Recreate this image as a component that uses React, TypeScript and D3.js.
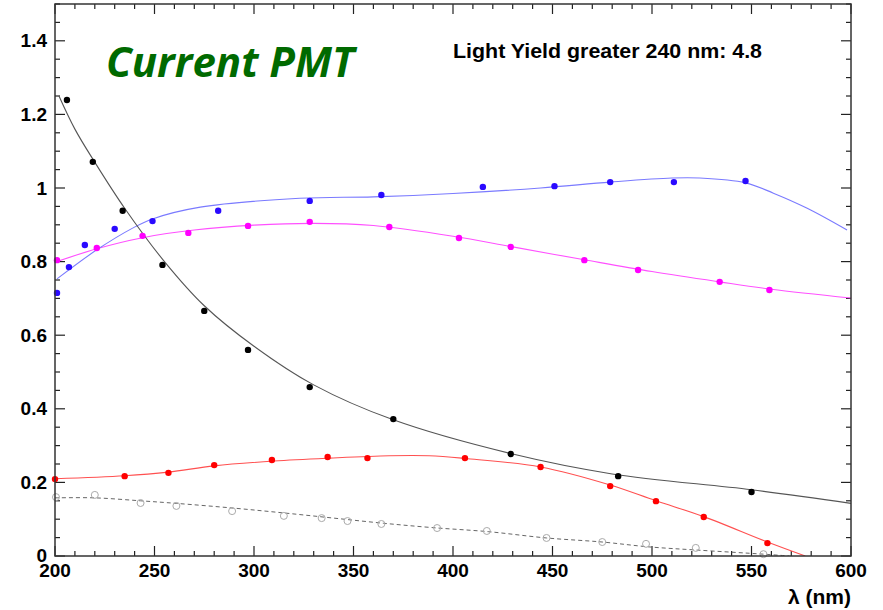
import React from "react";
import * as d3 from "d3";

// ---- data ----
const xTicks = [200, 250, 300, 350, 400, 450, 500, 550, 600];
const yTicks = [0, 0.2, 0.4, 0.6, 0.8, 1, 1.2, 1.4];
const yTickLabels = ["0", "0.2", "0.4", "0.6", "0.8", "1", "1.2", "1.4"];

const blackPts: [number, number][] = [
  [206, 1.239], [219, 1.071], [234, 0.938], [254, 0.791], [275, 0.666], [297, 0.56],
  [328, 0.459], [370, 0.372], [429, 0.277], [483, 0.217], [550, 0.174],
];
const blackFit: [number, number][] = [
  [202, 1.25], [210, 1.16], [220, 1.07], [235, 0.945], [255, 0.8], [275, 0.68], [300, 0.57],
  [330, 0.465], [370, 0.37], [430, 0.277], [480, 0.223], [550, 0.18], [600, 0.143],
];

const bluePts: [number, number][] = [
  [201, 0.715], [207, 0.785], [215, 0.845], [230, 0.889], [249, 0.91], [282, 0.938],
  [328, 0.965], [364, 0.981], [415, 1.003], [451, 1.005], [479, 1.016], [511, 1.016], [547, 1.019],
];
const blueFit: [number, number][] = [
  [201, 0.753], [221, 0.832], [239, 0.891], [249, 0.916], [273, 0.948], [323, 0.972],
  [360, 0.976], [400, 0.985], [444, 1.0], [479, 1.016], [510, 1.027], [524, 1.027],
  [547, 1.014], [561, 0.986], [578, 0.945], [598, 0.886],
];

const magentaPts: [number, number][] = [
  [201, 0.804], [221, 0.837], [244, 0.87], [267, 0.878], [297, 0.897], [328, 0.908],
  [368, 0.894], [403, 0.864], [429, 0.84], [466, 0.804], [493, 0.777], [534, 0.745], [559, 0.723],
];
const magentaFit: [number, number][] = [
  [201, 0.8], [221, 0.835], [244, 0.865], [270, 0.886], [300, 0.899], [330, 0.904],
  [360, 0.898], [400, 0.869], [430, 0.84], [466, 0.805], [500, 0.773], [534, 0.745],
  [560, 0.725], [600, 0.701],
];

const redPts: [number, number][] = [
  [200, 0.209], [235, 0.217], [257, 0.226], [280, 0.247], [309, 0.261], [337, 0.269],
  [357, 0.266], [406, 0.266], [444, 0.242], [479, 0.19], [502, 0.149], [526, 0.106], [558, 0.035],
];
const redFit: [number, number][] = [
  [200, 0.21], [235, 0.218], [257, 0.228], [280, 0.245], [310, 0.258], [338, 0.266],
  [368, 0.2725], [388, 0.2725], [406, 0.265], [444, 0.242], [479, 0.193], [502, 0.15],
  [526, 0.107], [558, 0.038], [577, 0.0],
];

const greyPts: [number, number][] = [
  [200.5, 0.16], [220, 0.166], [243, 0.144], [261, 0.136], [289, 0.122], [315, 0.109],
  [334, 0.103], [347, 0.095], [364, 0.087], [392, 0.076], [417, 0.068], [447, 0.049],
  [475, 0.038], [497, 0.033], [522, 0.022], [556, 0.005],
];
const greyFit: [number, number][] = [
  [200, 0.158], [220, 0.158], [243, 0.15], [261, 0.143], [290, 0.13], [315, 0.117],
  [340, 0.103], [365, 0.089], [390, 0.077], [418, 0.066], [447, 0.049], [475, 0.038],
  [498, 0.025], [523, 0.016], [556, 0.005], [569, 0.0],
];

// ---- layout ----
const W = 883;
const H = 610;
const L = 55, R = 851, T = 4, B = 556;

export default function App() {
  const x = d3.scaleLinear().domain([200, 600]).range([L, R]);
  const y = d3.scaleLinear().domain([0, 1.5]).range([B, T]);
  const line = d3
    .line<[number, number]>()
    .x((d) => x(d[0]))
    .y((d) => y(d[1]))
    .curve(d3.curveCatmullRom.alpha(0.5));

  const xMinor = d3.range(200, 601, 10);
  const yMinor = d3.range(0, 1.5001, 0.05);

  const font = "'Liberation Sans', Arial, sans-serif";

  return (
    <svg
      width={W}
      height={H}
      style={{ position: "absolute", left: 0, top: 0, background: "#fff" }}
      fontFamily={font}
    >
      <defs>
        <clipPath id="plot">
          <rect x={L} y={T} width={R - L} height={B - T} />
        </clipPath>
      </defs>

      {/* ticks */}
      <g stroke="#222" strokeWidth={1.2}>
        {xMinor.map((v) => {
          const major = Math.abs(v % 50) < 1e-6;
          const len = major ? 10 : 5;
          return (
            <g key={"xt" + v}>
              <line x1={x(v)} x2={x(v)} y1={B} y2={B - len} />
              <line x1={x(v)} x2={x(v)} y1={T} y2={T + len} />
            </g>
          );
        })}
        {yMinor.map((v, i) => {
          const major = i % 4 === 0;
          const len = major ? 10 : 5;
          return (
            <g key={"yt" + i}>
              <line x1={L} x2={L + len} y1={y(v)} y2={y(v)} />
              <line x1={R} x2={R - len} y1={y(v)} y2={y(v)} />
            </g>
          );
        })}
      </g>

      {/* fitted curves */}
      <g clipPath="url(#plot)" fill="none">
        <path d={line(greyFit) || ""} stroke="#666" strokeWidth={1} strokeDasharray="4,3" />
        <path d={line(redFit) || ""} stroke="#ff5050" strokeWidth={1.1} />
        <path d={line(magentaFit) || ""} stroke="#ff50ff" strokeWidth={1.1} />
        <path d={line(blueFit) || ""} stroke="#7a7aff" strokeWidth={1.1} />
        <path d={line(blackFit) || ""} stroke="#555" strokeWidth={1.1} />
      </g>

      {/* points */}
      <g>
        {greyPts.map((d, i) => (
          <circle key={"g" + i} cx={x(d[0])} cy={y(d[1])} r={3.5} fill="none" stroke="#aaa" strokeWidth={1} />
        ))}
        {redPts.map((d, i) => (
          <circle key={"r" + i} cx={x(d[0])} cy={y(d[1])} r={3.2} fill="#ff0000" />
        ))}
        {magentaPts.map((d, i) => (
          <circle key={"m" + i} cx={x(d[0])} cy={y(d[1])} r={3.2} fill="#ff00ff" />
        ))}
        {bluePts.map((d, i) => (
          <circle key={"b" + i} cx={x(d[0])} cy={y(d[1])} r={3.2} fill="#2a0aff" />
        ))}
        {blackPts.map((d, i) => (
          <circle key={"k" + i} cx={x(d[0])} cy={y(d[1])} r={3.2} fill="#000" />
        ))}
      </g>

      {/* frame */}
      <rect x={L} y={T} width={R - L} height={B - T} fill="none" stroke="#333" strokeWidth={1.5} />

      {/* tick labels */}
      <g fontSize={19} fontWeight="bold" fill="#000">
        {yTicks.map((v, i) => (
          <text key={"yl" + i} x={47} y={v === 0 ? y(v) - 1 : y(v)} textAnchor="end" dominantBaseline="central">
            {yTickLabels[i]}
          </text>
        ))}
        {xTicks.map((v) => (
          <text key={"xl" + v} x={x(v)} y={577} textAnchor="middle">
            {v}
          </text>
        ))}
      </g>

      <text x={R} y={604} textAnchor="end" fontSize={21} fontWeight="bold">
        λ (nm)
      </text>

      <text
        x={106}
        y={77}
        fontFamily="'Open Sans', 'Noto Sans', sans-serif"
        fontStyle="italic"
        fontWeight="bold"
        fontSize={42}
        fill="#006a00"
      >
        Current PMT
      </text>

      <text
        x={453}
        y={58}
        fontSize={21}
        fontWeight="bold"
        fill="#000"
        textLength={309}
        lengthAdjust="spacingAndGlyphs"
      >
        Light Yield greater 240 nm: 4.8
      </text>
    </svg>
  );
}
